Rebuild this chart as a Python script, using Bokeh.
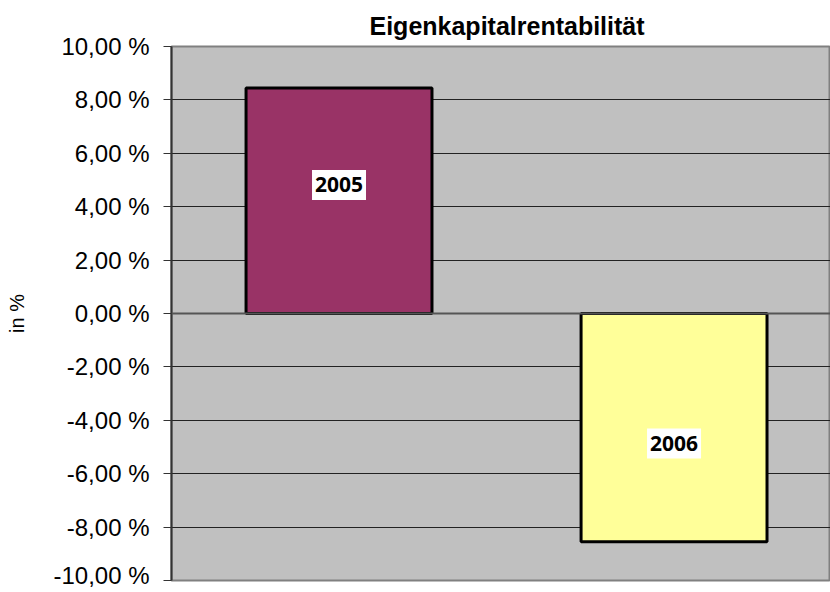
from bokeh.plotting import figure
from bokeh.models import ColumnDataSource, FixedTicker, Range1d, Span, Title
from bokeh.core.properties import value
from bokeh.embed import file_html
from bokeh.resources import INLINE

# ---- data ----
years = ["2005", "2006"]
values = [8.45, -8.55]
colors = ["#993366", "#FFFF99"]
y_ticks = [-10, -8, -6, -4, -2, 0, 2, 4, 6, 8, 10]
y_tick_labels = ["-10,00 %", "-8,00 %", "-6,00 %", "-4,00 %", "-2,00 %", "0,00 %",
                 "2,00 %", "4,00 %", "6,00 %", "8,00 %", "10,00 %"]
title_text = "Eigenkapitalrentabilität"
y_label = "in %"

xpos = [i + 0.5 for i in range(len(years))]
label_y = [v * 0.57 for v in values]

src = ColumnDataSource(dict(x=xpos, top=values, color=colors, year=years, ly=label_y))

p = figure(width=830, height=588, output_backend="svg", toolbar_location=None,
           x_range=Range1d(0, 1.967), y_range=Range1d(-10, 10),
           x_axis_location=None,
           min_border_left=171, min_border_right=0, min_border_top=46, min_border_bottom=8)
p.title = Title(text=title_text, align="left", offset=198, text_font="Liberation Sans",
                text_font_style="bold", text_font_size="25px", text_color="black",
                standoff=10, vertical_align="top")

p.background_fill_color = "#C0C0C0"
p.border_fill_color = "white"
p.outline_line_color = "#808080"
p.outline_line_width = 2

p.xgrid.visible = False
p.ygrid.grid_line_color = "#222222"
p.ygrid.grid_line_width = 1

p.add_layout(Span(location=0, dimension="width", line_color="#555555", line_width=2))

p.vbar(x="x", top="top", bottom=0, width=0.555, fill_color="color",
       line_color="black", line_width=3, source=src)

# white label boxes + bold year text
p.rect(x="x", y="ly", width=54, height=30, width_units="screen", height_units="screen",
       fill_color="white", line_color=None, source=src)
p.text(x="x", y="ly", text="year", source=src, text_align="center",
       text_baseline="middle", text_font=value("Open Sans"), text_font_style="bold",
       text_font_size="21px", text_color="black")

ax = p.yaxis[0]
ax.ticker = FixedTicker(ticks=y_ticks)
ax.major_label_overrides = {t: l for t, l in zip(y_ticks, y_tick_labels)}
ax.minor_tick_line_color = None
ax.major_tick_in = 0
ax.major_tick_out = 8
ax.major_tick_line_color = "#333333"
ax.axis_line_color = "#333333"
ax.axis_line_width = 2
ax.major_label_text_font = "Liberation Sans"
ax.major_label_text_font_size = "24px"
ax.major_label_text_color = "black"
ax.major_label_standoff = 14
ax.axis_label = y_label
ax.axis_label_text_font = "Liberation Sans"
ax.axis_label_text_font_size = "20px"
ax.axis_label_text_font_style = "normal"
ax.axis_label_text_color = "black"
ax.axis_label_standoff = 22

open("out.html", "w").write(file_html(p, INLINE))
